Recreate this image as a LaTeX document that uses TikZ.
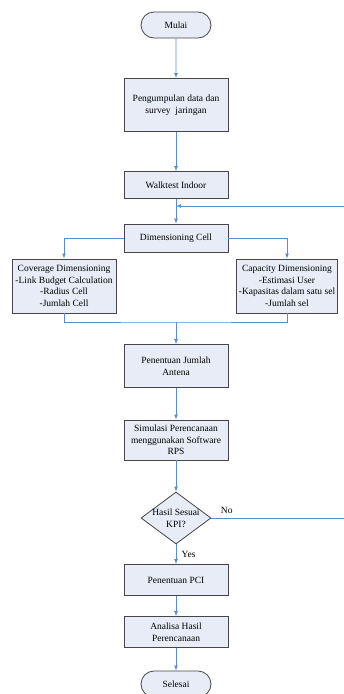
\documentclass[tikz,border=0pt]{standalone}
\usepackage{fontspec}
\setmainfont{Liberation Serif}
\usepackage{xcolor}
\usetikzlibrary{shapes.geometric,shapes.misc}

\definecolor{boxfill}{RGB}{231,236,246}
\definecolor{boxline}{RGB}{70,70,70}
\definecolor{flowline}{RGB}{92,140,196}

\tikzset{
	every node/.style={font=\fontsize{9.5}{11.6}\selectfont, align=center},
	terminal/.style={rounded rectangle, draw=boxline, fill=boxfill, line width=0.8pt, minimum width=70pt, minimum height=26pt, inner sep=0pt},
	process/.style={rectangle, draw=boxline, fill=boxfill, line width=0.8pt, minimum width=104pt, inner sep=0pt},
	decision/.style={diamond, draw=boxline, fill=boxfill, line width=0.8pt, minimum width=70pt, minimum height=52pt, inner sep=0pt},
	flow/.style={draw=flowline, line width=0.7pt},
	flowarrow/.style={flow, -latex},
}

\begin{document}
\begin{tikzpicture}[x=1pt, y=-1pt]
				\useasboundingbox (0, 0) rectangle (343, 694);
				
				%Start
				\node[terminal] (mulai) at (176, 25) {Mulai};
				
				%Preparation
				\node[process, minimum height=53pt] (data) at (176, 105) {Pengumpulan data dan\\survey\ \ jaringan};
				\node[process, minimum height=27pt] (walk) at (176, 185) {Walktest Indoor};
				\node[process, minimum height=28pt] (dim) at (176, 238) {Dimensioning Cell};
				
				%Dimensioning
				\node[process, minimum height=54pt] (cov) at (64, 286) {Coverage Dimensioning\\-Link Budget Calculation\\-Radius Cell\\-Jumlah Cell};
				\node[process, minimum width=101pt, minimum height=54pt] (cap) at (287, 286) {Capacity Dimensioning\\-Estimasi User\\-Kapasitas dalam satu sel\\-Jumlah sel};
				\coordinate (merge) at (176, 322);
				
				%Planning
				\node[process, minimum height=43pt] (jumlah) at (176, 366) {Penentuan Jumlah\\Antena};
				\node[process, minimum height=40pt] (sim) at (176, 440) {Simulasi Perencanaan\\menggunakan Software\\RPS};
				
				%Check
				\node[decision] (kpi) at (176, 518) {};
				\node (kpitext) at (176, 518) {Hasil Sesuai\\KPI?};
				\coordinate (loop) at (346, 206);
				
				%Finish
				\node[process, minimum height=31pt] (pci) at (176, 580) {Penentuan PCI};
				\node[process, minimum height=31pt] (analisa) at (176, 632) {Analisa Hasil\\Perencanaan};
				\node[terminal] (selesai) at (176, 684) {Selesai};
				
				%Lines
				\draw[flowarrow] (mulai) -- (data);
				\draw[flowarrow] (data) -- (walk);
				\draw[flowarrow] (walk) -- (dim);
				\draw[flowarrow] (dim.west) -| (cov.north);
				\draw[flowarrow] (dim.east) -| (cap.north);
				\draw[flow] (cov.south) |- (merge) -| (cap.south);
				\draw[flowarrow] (merge) -- (jumlah);
				\draw[flowarrow] (jumlah) -- (sim);
				\draw[flowarrow] (sim) -- (kpi);
				\draw[flowarrow] (kpi) -- node[right, xshift=2pt] (yes) {Yes} (pci);
				\draw[flowarrow] (pci) -- (analisa);
				\draw[flowarrow] (analisa) -- (selesai);
				
				%Loop back
				\draw[flow] (kpi.east) -- (kpi.east -| loop) -- (loop);
				\draw[flowarrow] (loop) -- (walk.south |- loop);
				\node[anchor=south west] (no) at ([xshift=6pt, yshift=1pt]kpi.east) {No};
			\end{tikzpicture}
\end{document}
